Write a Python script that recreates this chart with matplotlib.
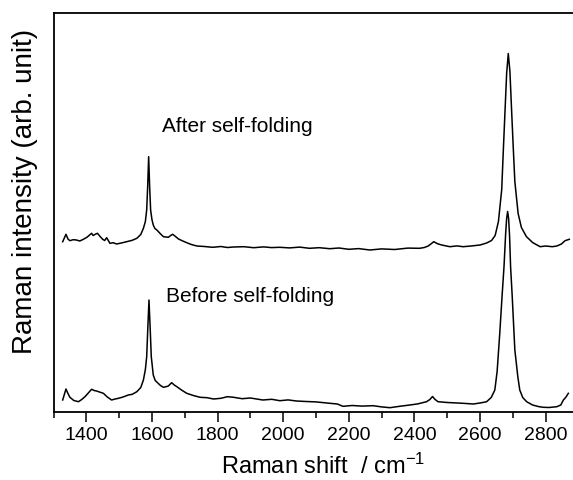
import numpy as np
import matplotlib
matplotlib.use("Agg")
import matplotlib.pyplot as plt

plt.rcParams['font.family'] = ['Liberation Sans', 'DejaVu Sans']

# after self-folding (upper trace)
after_x = [1328, 1338, 1344, 1350, 1360, 1370, 1380, 1391, 1403, 1416, 1421, 1427, 1434, 1442,
           1450, 1456, 1462, 1472, 1482, 1492, 1508, 1523, 1540, 1554, 1566, 1574, 1580, 1584,
           1587, 1590, 1593, 1596, 1600, 1604, 1609, 1615, 1625, 1635, 1650, 1657, 1663, 1670,
           1681, 1694, 1706, 1720, 1737, 1760, 1785, 1810, 1830, 1849, 1880, 1910, 1940, 1965,
           1989, 2020, 2050, 2080, 2110, 2142, 2170, 2200, 2230, 2264, 2300, 2340, 2380, 2416,
           2430, 2442, 2452, 2459, 2470, 2483, 2508, 2530, 2548, 2570, 2600, 2620, 2635, 2646,
           2656, 2666, 2671, 2676, 2681, 2686, 2691, 2696, 2701, 2706, 2716, 2726, 2741, 2760,
           2783, 2800, 2820, 2834, 2848, 2859, 2872]
after_y = [169.8, 177.2, 172.5, 170.8, 171.8, 171.5, 170.5, 172.2, 174.5, 178.2, 176.0, 177.2,
           178.2, 175.0, 172.2, 171.0, 173.8, 168.2, 168.8, 167.5, 168.6, 169.8, 171.2, 173.2,
           177.0, 183.2, 190.0, 201.5, 225.0, 254.8, 225.0, 201.5, 192.0, 186.5, 183.0, 181.5,
           178.0, 174.8, 174.2, 176.0, 177.2, 175.5, 172.5, 170.5, 168.8, 167.0, 165.5, 165.0,
           164.2, 165.0, 164.0, 164.5, 164.8, 163.8, 164.6, 163.9, 164.2, 163.6, 164.4, 163.2,
           163.8, 162.8, 163.5, 162.2, 162.9, 161.5, 162.6, 162.0, 163.4, 163.2, 164.0, 165.5,
           168.0, 169.8, 167.8, 166.5, 164.8, 165.6, 164.8, 165.4, 166.5, 168.5, 171.0, 176.0,
           190.0, 222.0, 262.0, 300.0, 338.0, 358.0, 340.0, 302.0, 265.0, 230.0, 198.0, 184.0,
           175.0, 169.0, 164.8, 165.5, 164.8, 165.5, 167.5, 170.8, 172.2]

# before self-folding (lower trace)
before_x = [1328, 1338, 1344, 1350, 1362, 1376, 1386, 1396, 1406, 1416, 1424, 1431, 1440, 1452,
            1464, 1477, 1488, 1498, 1512, 1528, 1540, 1554, 1566, 1574, 1580, 1584, 1587, 1591,
            1595, 1598, 1604, 1610, 1617, 1626, 1635, 1643, 1650, 1660, 1668, 1676, 1690, 1706,
            1726, 1747, 1768, 1788, 1810, 1830, 1849, 1875, 1900, 1938, 1965, 1990, 2015, 2040,
            2070, 2100, 2142, 2165, 2182, 2210, 2240, 2274, 2300, 2325, 2355, 2386, 2410, 2437,
            2447, 2455, 2463, 2472, 2500, 2525, 2548, 2580, 2605, 2620, 2634, 2645, 2652, 2660,
            2667, 2673, 2678, 2681, 2684, 2687, 2690, 2693, 2698, 2706, 2715, 2721, 2730, 2742,
            2760, 2780, 2793, 2810, 2834, 2846, 2854, 2862, 2869]
before_y = [11.5, 22.5, 18.0, 14.2, 11.0, 9.8, 12.0, 14.8, 18.5, 22.2, 21.0, 20.5, 19.5, 18.2,
            14.5, 11.5, 12.5, 13.2, 14.5, 16.5, 17.2, 19.8, 24.0, 31.5, 42.0, 54.8, 80.0, 111.5,
            80.0, 54.8, 36.5, 31.0, 28.8, 26.0, 24.2, 24.8, 25.5, 28.8, 26.5, 24.8, 21.5, 18.2,
            16.0, 14.2, 13.8, 12.5, 13.2, 14.8, 14.2, 12.8, 13.5, 11.5, 12.2, 10.8, 11.6, 10.5,
            10.0, 9.6, 8.2, 7.5, 5.2, 6.0, 5.4, 5.8, 4.6, 3.8, 5.2, 6.5, 7.6, 9.8, 12.0, 15.0,
            12.0, 9.8, 9.0, 8.6, 8.2, 7.5, 8.8, 9.8, 14.0, 21.5, 40.0, 78.0, 115.0, 145.0, 178.0,
            193.0, 200.0, 193.0, 175.0, 145.0, 115.0, 61.5, 35.0, 21.5, 14.0, 9.8, 6.5, 4.8, 4.2,
            4.0, 4.8, 6.5, 11.5, 14.5, 18.2]

xticks = [1400, 1600, 1800, 2000, 2200, 2400, 2600, 2800]

fig = plt.figure(figsize=(5.73, 4.8), dpi=100)
ax = fig.add_axes([53.5 / 573, 68.5 / 480, 525 / 573, 398.2 / 480])

ax.plot(after_x, after_y, color='black', lw=1.1)
ax.plot(before_x, before_y, color='black', lw=1.1)

ax.set_xlim(1300, 2900)
ax.set_ylim(0, 398.2)
ax.set_xticks(xticks)
ax.set_xticks(np.arange(1300, 2901, 200), minor=True)
ax.set_yticks([])
ax.tick_params(axis='x', which='major', direction='out', length=7, width=1.1,
               labelsize=14, pad=4)
ax.tick_params(axis='x', which='minor', direction='out', length=4, width=1.1)
for s in ax.spines.values():
    s.set_linewidth(1.3)

ax.text(1632, 284.5, 'After self-folding', fontsize=15, va='center', ha='left')
ax.text(1644, 114.5, 'Before self-folding', fontsize=15, va='center', ha='left')

fig.text(323 / 573, 1 - 466 / 480, 'Raman shift  / cm$\\mathregular{^{-1}}$',
         fontsize=17, ha='center', va='center')
fig.text(25 / 573, 1 - 191 / 480, 'Raman intensity (arb. unit)', fontsize=20,
         rotation=90, ha='center', va='center')

fig.savefig('out.png', dpi=100)
